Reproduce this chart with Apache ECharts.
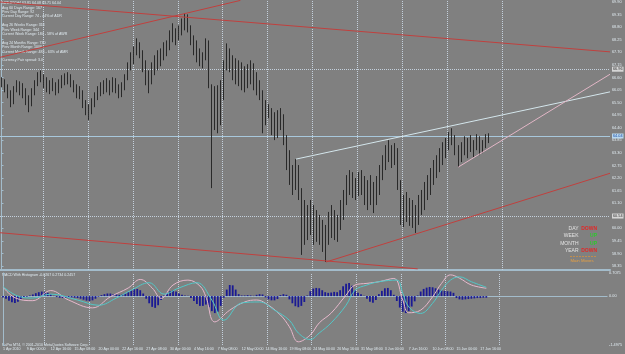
<!DOCTYPE html>
<html>
<head>
<meta charset="utf-8">
<title>NZDJPY,H4</title>
<style>
html, body { margin: 0; padding: 0; background: #808080; }
#charts { width: 625px; height: 354px; }
</style>
<script src="https://cdn.jsdelivr.net/npm/echarts@6/dist/echarts.min.js"></script>
</head>
<body>
<div id="charts"></div>
<script>
// NZDJPY H4 bars
var firstOpen = 66.40;
var highs = [66.61, 66.52, 66.30, 66.04, 66.22, 66.48, 66.43, 66.35, 66.13, 65.82,
	66.13, 66.48, 66.83, 66.91, 66.74, 66.61, 66.48, 66.57, 66.39, 66.52,
	66.70, 66.78, 66.83, 66.74, 66.48, 66.30, 66.22, 66.04, 65.61, 65.43,
	65.69, 65.95, 66.22, 66.39, 66.48, 66.57, 66.48, 66.61, 66.57, 66.30,
	66.39, 66.74, 67.26, 67.70, 67.96, 68.31, 68.14, 67.79, 67.35, 66.91,
	67.26, 67.57, 67.79, 67.87, 68.14, 68.22, 68.66, 68.97, 68.75, 68.88,
	69.18, 69.40, 69.36, 68.88, 68.44, 68.22, 67.87, 67.70, 68.31, 68.22,
	66.30, 66.22, 66.26, 66.48, 67.35, 68.09, 67.87, 67.57, 67.44, 67.35,
	67.26, 67.09, 67.18, 67.35, 67.22, 66.83, 66.48, 66.04, 65.61, 65.43,
	65.26, 65.08, 65.17, 65.26, 64.99, 64.08, 63.42, 62.77, 63.03, 62.77,
	61.76, 61.24, 61.02, 61.24, 61.02, 60.80, 60.59, 60.37, 60.15, 60.72,
	61.02, 60.80, 60.59, 61.24, 61.68, 62.33, 62.55, 62.46, 62.20, 62.46,
	62.55, 62.29, 62.11, 62.33, 62.03, 62.29, 62.77, 63.20, 63.64, 63.86,
	63.64, 63.73, 63.51, 62.11, 61.46, 61.59, 61.33, 61.24, 61.02, 61.46,
	61.68, 62.03, 62.33, 62.64, 62.99, 63.20, 63.51, 63.77, 63.95, 64.21,
	64.38, 64.08, 63.64, 63.77, 64.03, 63.95, 64.08, 63.86, 64.12, 64.03,
	63.86, 64.12, 64.16];
var lows = [66.17, 65.95, 65.69, 65.30, 65.43, 65.95, 65.82, 65.69, 65.39, 65.08,
	65.34, 65.82, 66.22, 66.39, 66.13, 65.95, 65.87, 66.00, 65.82, 65.91,
	66.13, 66.26, 66.30, 66.17, 65.95, 65.69, 65.65, 65.26, 64.95, 64.73,
	64.99, 65.30, 65.61, 65.78, 65.87, 65.95, 65.82, 65.95, 65.91, 65.69,
	65.74, 66.04, 66.48, 66.91, 67.18, 67.57, 67.44, 66.83, 66.26, 65.91,
	66.30, 66.70, 66.91, 67.09, 67.35, 67.53, 67.79, 68.14, 68.01, 68.22,
	68.44, 68.66, 68.57, 68.01, 67.57, 67.26, 67.09, 67.00, 67.35, 66.13,
	61.76, 64.30, 64.16, 64.51, 65.61, 66.91, 66.83, 66.48, 66.30, 66.22,
	66.04, 65.95, 66.13, 66.30, 66.04, 65.82, 65.61, 64.16, 64.51, 64.82,
	64.08, 63.86, 63.95, 64.30, 63.64, 62.55, 61.90, 61.46, 61.68, 61.24,
	58.84, 59.28, 59.49, 59.71, 59.28, 59.41, 59.28, 58.97, 58.53, 59.28,
	59.58, 59.49, 59.41, 59.93, 60.37, 61.02, 61.46, 61.33, 61.24, 61.41,
	61.46, 61.02, 60.80, 61.02, 60.67, 61.02, 61.46, 62.11, 62.55, 62.90,
	62.64, 62.77, 61.68, 60.15, 60.06, 60.28, 60.11, 60.02, 59.80, 60.15,
	60.59, 60.80, 61.24, 61.46, 61.90, 62.20, 62.46, 62.77, 63.07, 63.42,
	63.64, 63.20, 62.68, 62.90, 63.20, 63.07, 63.34, 63.12, 63.42, 63.20,
	63.29, 63.51, 63.73];
var closes = [66.48, 66.13, 65.82, 65.61, 66.04, 66.30, 66.13, 65.87, 65.61, 65.43,
	65.95, 66.30, 66.65, 66.57, 66.39, 66.13, 66.26, 66.39, 66.04, 66.30,
	66.57, 66.48, 66.65, 66.35, 66.13, 65.87, 66.04, 65.43, 65.17, 65.26,
	65.52, 65.78, 66.04, 66.22, 66.13, 66.39, 66.04, 66.30, 66.13, 65.95,
	66.22, 66.57, 67.09, 67.53, 67.70, 68.05, 67.61, 67.00, 66.48, 66.39,
	66.91, 67.35, 67.53, 67.70, 67.87, 67.96, 68.31, 68.66, 68.44, 68.66,
	69.01, 69.18, 68.83, 68.22, 67.87, 67.53, 67.35, 67.44, 68.14, 66.26,
	65.17, 65.61, 65.78, 66.04, 67.13, 67.70, 67.44, 67.09, 66.83, 66.91,
	66.48, 66.74, 66.91, 67.00, 66.39, 66.13, 65.82, 64.73, 65.17, 65.08,
	64.38, 64.73, 64.82, 64.91, 63.86, 62.99, 62.55, 62.33, 62.46, 61.68,
	60.15, 60.59, 60.02, 60.80, 60.37, 59.84, 59.93, 59.49, 59.28, 60.37,
	60.59, 59.84, 60.15, 60.89, 61.33, 62.03, 62.20, 61.68, 61.90, 62.03,
	61.76, 61.33, 61.59, 61.24, 61.46, 61.90, 62.46, 62.99, 63.42, 63.20,
	62.99, 63.42, 62.11, 60.80, 61.02, 60.59, 60.89, 60.28, 60.59, 61.24,
	61.46, 61.76, 62.03, 62.33, 62.64, 62.99, 63.20, 63.51, 63.77, 64.08,
	63.86, 63.42, 62.99, 63.51, 63.77, 63.42, 63.86, 63.51, 63.95, 63.64,
	63.77, 63.99, 64.04];

// MACD histogram, one value per bar
var macdHist = [-0.04, -0.08, -0.14, -0.19, -0.21, -0.17, -0.10, -0.04, -0.02, 0.02,
	0.05, 0.09, 0.12, 0.14, 0.13, 0.10, 0.05, 0.01, -0.03, -0.05,
	-0.06, -0.05, -0.04, -0.04, -0.05, -0.06, -0.08, -0.11, -0.14, -0.15,
	-0.13, -0.08, -0.02, 0.03, 0.06, 0.08, 0.08, 0.06, 0.05, 0.04,
	0.05, 0.08, 0.12, 0.17, 0.21, 0.22, 0.18, 0.08, -0.08, -0.22,
	-0.33, -0.36, -0.28, -0.12, 0.02, 0.10, 0.15, 0.17, 0.14, 0.08,
	0.04, 0.02, 0.01, -0.06, -0.15, -0.24, -0.30, -0.30, -0.26, -0.34,
	-0.46, -0.52, -0.48, -0.30, -0.05, 0.20, 0.34, 0.33, 0.20, 0.06,
	0.02, 0.02, 0.03, 0.02, 0.01, 0.04, 0.06, 0.05, -0.04, -0.10,
	-0.13, -0.13, -0.09, 0.03, 0.06, 0.04, -0.10, -0.22, -0.31, -0.34,
	-0.30, -0.18, 0.02, 0.15, 0.23, 0.25, 0.24, 0.18, 0.12, 0.10,
	0.11, 0.13, 0.12, 0.18, 0.30, 0.38, 0.40, 0.32, 0.18, 0.10,
	0.06, 0.01, -0.08, -0.17, -0.20, -0.12, 0.06, 0.16, 0.24, 0.25,
	0.18, 0.04, -0.15, -0.35, -0.48, -0.52, -0.46, -0.32, -0.16, 0.02,
	0.14, 0.22, 0.26, 0.28, 0.27, 0.24, 0.20, 0.17, 0.16, 0.15,
	0.14, 0.10, -0.06, -0.10, -0.11, -0.10, -0.09, -0.08, -0.07, -0.06,
	-0.06, -0.05, -0.05];

// MACD lines, read at a few bars
var macdIdx = [0, 4, 10, 16, 22, 30, 36, 42, 46, 50, 53, 57, 62, 66, 68, 71, 76, 81, 85, 88,
	93, 96, 99, 103, 106, 110, 115, 118, 122, 126, 131, 134, 136, 140, 144, 147, 150, 153, 157, 162];
var macdMain = [0.28, -0.05, -0.14, 0.17, -0.12, -0.36, -0.02, 0.25, 0.51, 0.25, -0.07, 0.34, 0.49, 0.31, -0.02, -0.79, -0.43, -0.18, -0.12, -0.22,
	-0.58, -0.94, -1.40, -1.19, -0.82, -0.52, 0.03, 0.34, 0.39, 0.44, 0.54, -0.12, -0.51, -0.43, -0.02, 0.39, 0.65, 0.55, 0.34, 0.24];
var signalIdx = [0, 5, 10, 16, 25, 32, 38, 43, 49, 54, 59, 65, 70, 74, 80, 86, 91, 96, 99, 103,
	106, 110, 115, 118, 122, 126, 132, 134, 136, 140, 144, 147, 150, 153, 157, 162];
var macdSignal = [0.29, 0.00, -0.06, 0.06, -0.12, -0.28, -0.06, 0.18, 0.41, 0.06, 0.25, 0.41, -0.12, -0.74, -0.21, -0.18, -0.43, -0.74, -1.13, -1.33,
	-1.13, -0.82, -0.28, 0.18, 0.34, 0.44, 0.49, 0.09, -0.33, -0.53, -0.22, 0.18, 0.49, 0.59, 0.44, 0.27];

// trend lines [bar, price]
var redFall = [[-0.5, 69.90], [202.5, 67.72]];
var redRise = [[-0.5, 67.48], [79.5, 69.97]];
var redLow = [[-0.5, 59.81], [138.5, 58.23]];
var redSupport = [[108, 58.53], [202.5, 62.41]];
var whiteLine = [[98, 63.03], [202.5, 65.97]];
var pinkLine = [[152, 62.68], [202.5, 66.74]];

var levelLines = [66.96, 60.54];
var bidPrice = 64.04;
var weekLines = [13.9, 28.8, 43.7, 58.7, 73.6, 88.5, 103.4, 118.4, 133.4, 148.4, 166.5];

var priceTicks = [69.90, 69.35, 68.80, 68.25, 67.70, 67.15, 66.60, 66.05, 65.50, 64.95, 64.40,
	63.85, 63.30, 62.75, 62.20, 61.65, 61.10, 60.55, 60.00, 59.45, 58.90, 58.35];
var macdTicks = [0.7075, 0, -1.4975];
var timeLabels = ['1 Apr 2010', '9 Apr 00:00', '12 Apr 16:00', '15 Apr 08:00', '20 Apr 00:00', '22 Apr 16:00',
	'27 Apr 08:00', '30 Apr 00:00', '4 May 16:00', '7 May 08:00', '12 May 00:00', '14 May 16:00',
	'19 May 08:00', '24 May 00:00', '26 May 16:00', '31 May 08:00', '3 Jun 00:00', '7 Jun 16:00',
	'10 Jun 08:00', '15 Jun 00:00', '17 Jun 16:00'];

var infoLines = ['NZDJPY,H4 63.81 64.08 63.71 64.04', 'Avg 60 Days Range: 167', 'Prev Day Range: 92',
	'Current Day Range: 74 - 44% of ADR', '', 'Avg 26 Weeks Range: 318', 'Prev Week Range: 344',
	'Current Week Range: 184 - 58% of AWR', '', 'Avg 24 Months Range: 730', 'Prev Month Range: 1006',
	'Current Month Range: 483 - 63% of AMR', '', 'Currency Pair spread: 3.0'];
var moveNames = ['DAY', 'WEEK', 'MONTH', 'YEAR'];
var moveDirs = ['DOWN', 'UP', 'UP', 'DOWN'];

var ChartPage = {

	slots: 203,
	font: 'Liberation Sans',

	init: function () {
		this.renderChart();
	},

	// bars as [open, close, low, high]
	candleData: function () {
		var out = [];
		for (var i = 0; i < closes.length; i++) {
			var open = i === 0 ? firstOpen : closes[i - 1];
			out.push([open, closes[i], lows[i], highs[i]]);
		}
		return out;
	},

	pairs: function (xs, ys) {
		var out = [];
		for (var i = 0; i < xs.length; i++) out.push([xs[i], ys[i]]);
		return out;
	},

	trend: function (points, color) {
		return {
			type: 'line', xAxisIndex: 2, yAxisIndex: 0, data: points,
			symbol: 'none', silent: true, z: 3,
			lineStyle: { color: color, width: 1 }
		};
	},

	labelGraphics: function () {
		var _self = this;
		var g = [];
		g.push({ type: 'text', left: 2, top: 1, silent: true,
			style: { text: infoLines.join('\n'), font: '3.6px ' + _self.font, lineHeight: 4.4, fill: '#dfe9ef' } });
		g.push({ type: 'text', left: 2, top: 273, silent: true,
			style: { text: 'MACD With Histogram -0.0267 0.2734 0.2457', font: '3.6px ' + _self.font, fill: '#dfe9ef' } });
		g.push({ type: 'text', left: 2, top: 342.5, silent: true,
			style: { text: 'PaPro MT4, \u00a9 2001-2010 MetaQuotes Software Corp.', font: '3.6px ' + _self.font, fill: '#dfe9ef' } });
		for (var k = 0; k < moveNames.length; k++) {
			var y = 228.3 + 7.47 * k;
			g.push({ type: 'text', x: 578.5, y: y, silent: true,
				style: { text: moveNames[k], font: '5px ' + _self.font, fill: '#e2e2e2', align: 'right', verticalAlign: 'middle' } });
			g.push({ type: 'text', x: 597, y: y, silent: true,
				style: { text: moveDirs[k], font: 'bold 5px ' + _self.font, fill: moveDirs[k] === 'UP' ? '#2ec82e' : '#e02828', align: 'right', verticalAlign: 'middle' } });
		}
		g.push({ type: 'line', silent: true, shape: { x1: 570, y1: 256.5, x2: 597, y2: 256.5 },
			style: { stroke: '#d09040', lineWidth: 0.8, lineDash: [2, 1] } });
		g.push({ type: 'text', x: 582, y: 261, silent: true,
			style: { text: 'Main Moves', font: '4.3px ' + _self.font, fill: '#e8a040', align: 'center', verticalAlign: 'middle' } });
		return g;
	},

	renderChart: function () {
		var _self = this;
		var myChart = echarts.init(document.getElementById('charts'));

		var cats = [];
		for (var i = 0; i < this.slots; i++) cats.push(String(i));

		var showLabel = function (index) {
			return index % 8 === 0 && index / 8 < timeLabels.length;
		};
		var gridLine = { type: 'dotted', color: '#c4d0dc', width: 1 };
		var boxLabel = function (text, bg, fg) {
			return { show: true, position: 'end', distance: 2, formatter: text,
				fontSize: 3.8, fontFamily: _self.font, color: fg, backgroundColor: bg, padding: [0.5, 1] };
		};

		var option = {
			backgroundColor: '#808080',
			animation: false,
			grid: [
				{ left: 0, top: 0, width: 610, height: 270 },
				{ left: 0, top: 273, width: 610, height: 72 }
			],
			xAxis: [
				{ type: 'category', gridIndex: 0, data: cats,
					axisLine: { lineStyle: { color: '#a3bccb', width: 2 } },
					axisTick: { show: false }, axisLabel: { show: false }, splitLine: { show: false } },
				{ type: 'category', gridIndex: 1, data: cats,
					axisLine: { lineStyle: { color: '#a3bccb', width: 1 } },
					axisTick: { interval: showLabel, length: 2, lineStyle: { color: '#a3bccb' } },
					axisLabel: { interval: showLabel, align: 'left', margin: 1.5, fontSize: 3.6, fontFamily: _self.font, color: '#dfe9ef',
						formatter: function (v, index) { return timeLabels[index / 8] || ''; } },
					splitLine: { show: false } },
				{ type: 'value', gridIndex: 0, min: -0.5, max: 202.5, show: false },
				{ type: 'value', gridIndex: 1, min: -0.5, max: 202.5, show: false }
			],
			yAxis: [
				{ type: 'value', gridIndex: 0, position: 'right', min: 58.18, max: 69.97, scale: true,
					axisLine: { show: true, lineStyle: { color: '#a3bccb' } },
					axisTick: { show: true, length: 2, customValues: priceTicks, lineStyle: { color: '#a3bccb' } },
					axisLabel: { customValues: priceTicks, margin: 2, fontSize: 3.8, fontFamily: _self.font, color: '#dfe9ef',
						formatter: function (v) { return v.toFixed(2); } },
					splitLine: { show: false } },
				{ type: 'value', gridIndex: 1, position: 'right', min: -1.4975, max: 0.7075,
					axisLine: { show: true, lineStyle: { color: '#a3bccb' } },
					axisTick: { show: true, length: 2, customValues: macdTicks, lineStyle: { color: '#a3bccb' } },
					axisLabel: { customValues: macdTicks, margin: 2, fontSize: 3.8, fontFamily: _self.font, color: '#dfe9ef',
						formatter: function (v) { return v === 0 ? '0.00' : v.toFixed(4); } },
					splitLine: { show: false } }
			],
			graphic: this.labelGraphics(),
			series: [
				// weekly grid lines
				{ type: 'line', xAxisIndex: 2, yAxisIndex: 0, data: [], silent: true,
					markLine: { silent: true, symbol: ['none', 'none'], z: 1, label: { show: false },
						lineStyle: gridLine, data: weekLines.map(function (v) { return { xAxis: v }; }) } },
				{ type: 'line', xAxisIndex: 3, yAxisIndex: 1, data: [], silent: true,
					markLine: { silent: true, symbol: ['none', 'none'], z: 1, label: { show: false },
						lineStyle: gridLine, data: weekLines.map(function (v) { return { xAxis: v }; }) } },
				{
					type: 'candlestick', xAxisIndex: 0, yAxisIndex: 0,
					data: this.candleData(), barWidth: 1.3, silent: true,
					itemStyle: { color: '#1f1f1f', color0: '#1f1f1f', borderColor: '#1f1f1f', borderColor0: '#1f1f1f', borderWidth: 0.9 },
					markLine: {
						silent: true, symbol: ['none', 'none'], z: 1,
						data: [
							{ yAxis: levelLines[0], lineStyle: gridLine, label: boxLabel(levelLines[0].toFixed(2), '#d6d6d6', '#303030') },
							{ yAxis: bidPrice, lineStyle: { type: 'solid', color: '#a8c8dc', width: 1 }, label: boxLabel(bidPrice.toFixed(2), '#b8d8f0', '#1848a0') },
							{ yAxis: levelLines[1], lineStyle: gridLine, label: boxLabel(levelLines[1].toFixed(2), '#d6d6d6', '#303030') }
						]
					}
				},
				this.trend(redFall, '#c0403e'),
				this.trend(redRise, '#c0403e'),
				this.trend(redLow, '#c0403e'),
				this.trend(redSupport, '#c0403e'),
				this.trend(whiteLine, '#d4e6ec'),
				this.trend(pinkLine, '#e2b6c6'),
				// MACD
				{ type: 'bar', xAxisIndex: 1, yAxisIndex: 1, data: macdHist, barWidth: 1.8, silent: true,
					itemStyle: { color: '#1a1a94' } },
				{ type: 'line', xAxisIndex: 3, yAxisIndex: 1, data: this.pairs(macdIdx, macdMain), smooth: 0.4,
					symbol: 'none', silent: true, lineStyle: { color: '#e6b8cc', width: 1 } },
				{ type: 'line', xAxisIndex: 3, yAxisIndex: 1, data: this.pairs(signalIdx, macdSignal), smooth: 0.4,
					symbol: 'none', silent: true, lineStyle: { color: '#52c8c8', width: 1 } }
			]
		};

		myChart.setOption(option);
	}
};

ChartPage.init();
</script>
</body>
</html>
